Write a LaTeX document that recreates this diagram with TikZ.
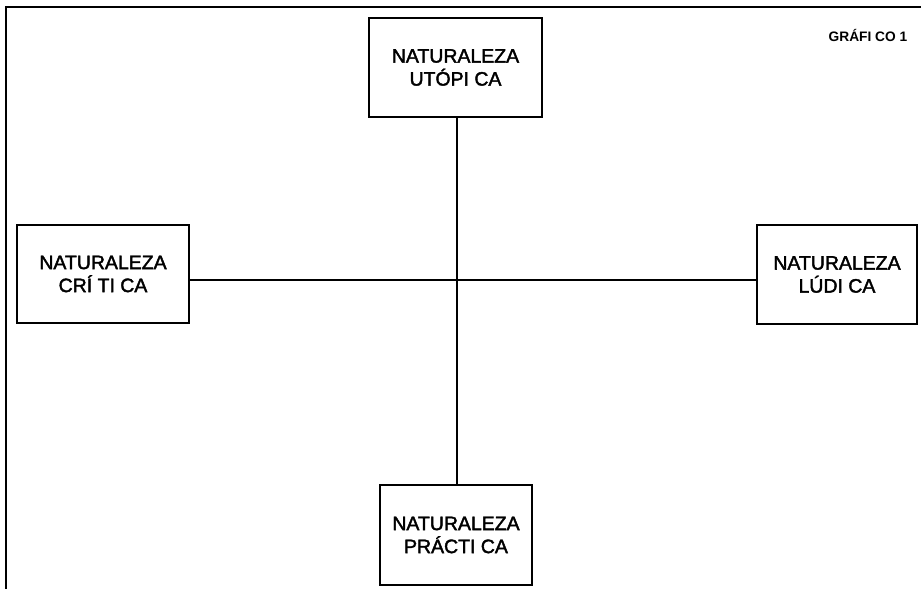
\documentclass[tikz,border=0pt]{standalone}
\usepackage{fontspec}
\setmainfont{Liberation Sans}
\newfontfamily\boxfont[FakeBold=2]{Liberation Sans}
\begin{document}
\begin{tikzpicture}[x=0.75pt,y=-0.75pt,
  box/.style={draw,line width=1.5pt,align=center,inner sep=0pt,
    font=\boxfont\fontsize{14.6}{17.25}\selectfont},
  link/.style={line width=1.5pt},
  frame/.style={line width=1.6pt}]
\useasboundingbox (0,0) rectangle (921,589);
\draw[frame] (6,589) -- (6,7) -- (921,7);
\node[anchor=base east,font=\fontsize{10.3}{12}\selectfont\bfseries] (g) at (912,41) {GRÁFI CO 1};
\node[box,minimum width=129.75pt,minimum height=74.25pt] (top) at (455.5,67.5) {NATURALEZA\\UTÓPI CA};
\node[box,minimum width=129pt,minimum height=73.5pt] (left) at (103,274) {NATURALEZA\\CRÍ TI CA};
\node[box,minimum width=120pt,minimum height=74.25pt] (right) at (837,274.5) {NATURALEZA\\LÚDI CA};
\node[box,minimum width=114pt,minimum height=75pt] (bot) at (456,535) {NATURALEZA\\PRÁCTI CA};
\coordinate (c) at (457,280);
\draw[link] (top.south -| c) -- (bot.north -| c);
\draw[link] (left.east |- c) -- (right.west |- c);
\end{tikzpicture}
\end{document}
